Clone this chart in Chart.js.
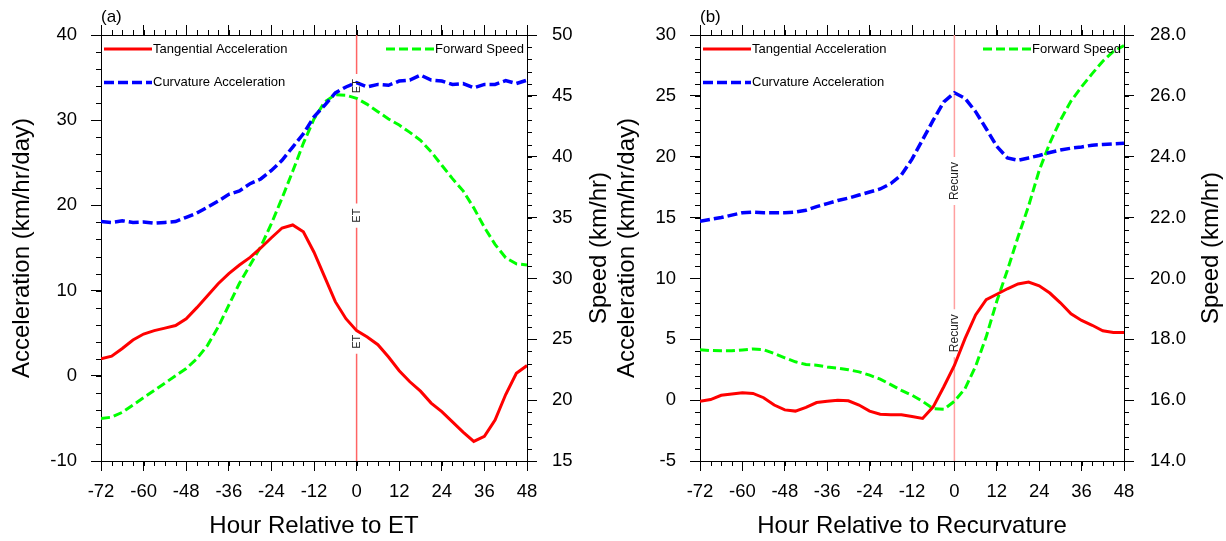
<!DOCTYPE html>
<html>
<head>
<meta charset="utf-8">
<title>Acceleration and forward speed</title>
<script src="https://cdn.jsdelivr.net/npm/chart.js@4.4.1/dist/chart.umd.min.js"></script>
<style>
  body { margin: 0; background: #fff; }
  #wrap { position: relative; width: 1226px; height: 541px; background: #fff; }
  canvas { position: absolute; top: 0; }
</style>
</head>
<body>
<div id="wrap">
  <canvas id="chart-a" width="613" height="541" style="left:0"></canvas>
  <canvas id="chart-b" width="613" height="541" style="left:613px"></canvas>
</div>
<script>
// hours relative to the event (3-hourly)
const hours = [-72, -69, -66, -63, -60, -57, -54, -51, -48, -45, -42, -39, -36, -33, -30, -27, -24, -21, -18, -15,
  -12, -9, -6, -3, 0, 3, 6, 9, 12, 15, 18, 21, 24, 27, 30, 33, 36, 39, 42, 45, 48];

// panel (a): relative to ET
const etTangential = [2.0, 2.3, 3.2, 4.2, 4.9, 5.3, 5.6, 5.9, 6.7, 8.0, 9.4, 10.8, 12.0, 13.0, 13.9, 15.0, 16.2, 17.35, 17.7, 16.9,
  14.5, 11.6, 8.7, 6.7, 5.3, 4.55, 3.65, 2.2, 0.6, -0.7, -1.8, -3.2, -4.2, -5.4, -6.6, -7.7, -7.1, -5.2, -2.2, 0.3, 1.2];
const etCurvature = [18.1, 18.0, 18.2, 18.0, 18.05, 17.9, 18.0, 18.1, 18.6, 19.1, 19.8, 20.5, 21.3, 21.7, 22.55, 23.1, 24.1, 25.3, 26.85, 28.4,
  30.4, 31.75, 33.2, 33.9, 34.4, 33.9, 34.2, 34.1, 34.6, 34.7, 35.3, 34.7, 34.6, 34.2, 34.3, 33.8, 34.2, 34.2, 34.65, 34.3, 34.7];
const etSpeed = [18.5, 18.6, 19.0, 19.6, 20.2, 20.8, 21.4, 22.0, 22.6, 23.4, 24.5, 26.0, 27.8, 29.6, 31.1, 32.6, 34.5, 36.6, 38.8, 41.1,
  43.1, 44.5, 45.1, 45.05, 44.8, 44.3, 43.7, 43.1, 42.6, 42.0, 41.35, 40.4, 39.3, 38.2, 37.2, 35.8, 34.2, 32.8, 31.7, 31.2, 31.1];

// panel (b): relative to recurvature
const rcTangential = [-0.1, 0.05, 0.4, 0.5, 0.6, 0.55, 0.2, -0.4, -0.8, -0.9, -0.6, -0.2, -0.1, 0.0, -0.05, -0.4, -0.9, -1.15, -1.2, -1.2,
  -1.35, -1.5, -0.55, 1.1, 2.85, 5.05, 7.0, 8.25, 8.7, 9.15, 9.55, 9.7, 9.4, 8.8, 8.0, 7.1, 6.55, 6.15, 5.7, 5.55, 5.55];
const rcCurvature = [14.7, 14.85, 15.0, 15.2, 15.4, 15.45, 15.4, 15.4, 15.4, 15.45, 15.6, 15.9, 16.15, 16.4, 16.6, 16.85, 17.1, 17.35, 17.8, 18.5,
  19.8, 21.4, 23.0, 24.5, 25.25, 24.8, 23.7, 22.3, 20.85, 19.9, 19.7, 19.9, 20.1, 20.35, 20.55, 20.7, 20.8, 20.95, 21.0, 21.05, 21.1];
const rcSpeed = [17.66, 17.63, 17.62, 17.62, 17.65, 17.68, 17.66, 17.53, 17.39, 17.26, 17.17, 17.15, 17.09, 17.05, 17.0, 16.93, 16.82, 16.69, 16.51, 16.32,
  16.16, 15.96, 15.72, 15.7, 15.96, 16.38, 17.11, 18.08, 19.25, 20.27, 21.36, 22.38, 23.55, 24.45, 25.2, 25.83, 26.3, 26.73, 27.14, 27.46, 27.65];

const FONT = '"Liberation Sans", Arial, Helvetica, sans-serif';

function toPoints(values) {
  return values.map((v, i) => ({ x: hours[i], y: v }));
}

// shorter tick marks between the labelled ones, on all four sides
const minorTicks = {
  id: 'minorTicks',
  afterDraw(chart, args, o) {
    const ctx = chart.ctx, a = chart.chartArea;
    ctx.save();
    ctx.strokeStyle = '#000';
    ctx.lineWidth = 1;
    ctx.beginPath();
    for (const id of Object.keys(o.steps)) {
      const s = chart.scales[id];
      const step = o.steps[id];
      const n = Math.round((s.max - s.min) / step);
      for (let i = 0; i <= n; i++) {
        const p = Math.round(s.getPixelForValue(s.min + i * step)) + 0.5;
        if (s.position === 'left') { ctx.moveTo(a.left, p); ctx.lineTo(a.left - 5, p); }
        else if (s.position === 'right') { ctx.moveTo(a.right, p); ctx.lineTo(a.right + 5, p); }
        else if (s.position === 'top') { ctx.moveTo(p, a.top); ctx.lineTo(p, a.top - 5); }
        else { ctx.moveTo(p, a.bottom); ctx.lineTo(p, a.bottom + 5); }
      }
    }
    ctx.stroke();
    ctx.restore();
  }
};

// reference line, in-plot legend, panel tag and right-hand title
const panelDecor = {
  id: 'panelDecor',
  beforeDatasetsDraw(chart, args, o) {
    const ctx = chart.ctx, a = chart.chartArea;
    const x0 = chart.scales.x.getPixelForValue(o.markHour);
    ctx.save();
    ctx.font = o.markFont + 'px ' + FONT;
    const half = ctx.measureText(o.markText).width / 2 + 5;
    const centers = o.markAt.map(v => chart.scales.y.getPixelForValue(v)).sort((p, q) => p - q);
    ctx.strokeStyle = o.markColor;
    ctx.lineWidth = o.markWidth;
    ctx.beginPath();
    let y = a.top;
    centers.forEach(c => { ctx.moveTo(x0, y); ctx.lineTo(x0, c - half); y = c + half; });
    ctx.moveTo(x0, y);
    ctx.lineTo(x0, a.bottom);
    ctx.stroke();
    ctx.restore();
  },
  afterDatasetsDraw(chart, args, o) {
    const ctx = chart.ctx, a = chart.chartArea;
    const x0 = chart.scales.x.getPixelForValue(o.markHour);
    ctx.save();
    ctx.fillStyle = '#222';
    ctx.font = o.markFont + 'px ' + FONT;
    ctx.textAlign = 'center';
    ctx.textBaseline = 'middle';
    o.markAt.forEach(v => {
      ctx.save();
      ctx.translate(x0, chart.scales.y.getPixelForValue(v));
      ctx.rotate(-Math.PI / 2);
      ctx.fillText(o.markText, 0, 0);
      ctx.restore();
    });

    // legend entries drawn inside the plot
    const ds = chart.data.datasets;
    const entry = (d, x, yy) => {
      ctx.save();
      ctx.strokeStyle = d.borderColor;
      ctx.lineWidth = d.borderWidth;
      ctx.setLineDash(d.borderDash || []);
      ctx.beginPath();
      ctx.moveTo(x, yy);
      ctx.lineTo(x + 48, yy);
      ctx.stroke();
      ctx.restore();
      ctx.fillStyle = '#000';
      ctx.font = '13px ' + FONT;
      ctx.textAlign = 'left';
      ctx.textBaseline = 'middle';
      ctx.fillText(d.label, x + 49, yy);
    };
    entry(ds[0], a.left + 3, a.top + 14);
    entry(ds[1], a.left + 3, a.top + 47.5);
    entry(ds[2], a.right - 141, a.top + 14);

    // panel tag
    ctx.fillStyle = '#000';
    ctx.font = '17px ' + FONT;
    ctx.textAlign = 'left';
    ctx.fillText(o.tag, a.left, 17);

    // right axis title, reading upwards like the left one
    ctx.font = '24px ' + FONT;
    ctx.textAlign = 'center';
    ctx.translate(o.rightTitleX, (a.top + a.bottom) / 2);
    ctx.rotate(-Math.PI / 2);
    ctx.fillText(o.rightTitle, 0, 0);
    ctx.restore();
  }
};

function axisStyle() {
  return {
    grid: { drawOnChartArea: false, drawTicks: true, tickLength: 10, tickColor: '#000', tickWidth: 1 },
    border: { display: true, color: '#000', width: 1 }
  };
}

function makePanel(canvasId, p) {
  const tickFont = { size: 18.5, family: FONT };
  const config = {
    type: 'line',
    data: {
      datasets: [
        { label: 'Tangential Acceleration', data: toPoints(p.tangential), yAxisID: 'y',
          borderColor: '#ff0000', borderWidth: 3 },
        { label: 'Curvature Acceleration', data: toPoints(p.curvature), yAxisID: 'y',
          borderColor: '#0000ff', borderWidth: 3.5, borderDash: [10, 4] },
        { label: 'Forward Speed', data: toPoints(p.speed), yAxisID: 'y1',
          borderColor: '#00ff00', borderWidth: 3, borderDash: [9, 4] }
      ]
    },
    options: {
      responsive: false,
      animation: false,
      devicePixelRatio: 1,
      layout: { padding: 0 },
      elements: { point: { radius: 0 }, line: { tension: 0 } },
      scales: {
        x: Object.assign(axisStyle(), {
          type: 'linear', position: 'bottom', min: -72, max: 48,
          afterFit: s => { s.height = 80; },
          ticks: { stepSize: 12, color: '#000', font: tickFont, padding: 10, maxRotation: 0, autoSkip: false },
          title: { display: true, text: p.xTitle, color: '#000', font: { size: 24, family: FONT }, padding: { top: 0, bottom: 0 } }
        }),
        xTop: Object.assign(axisStyle(), {
          type: 'linear', position: 'top', min: -72, max: 48,
          afterFit: s => { s.height = 35; },
          ticks: { stepSize: 12, display: false }
        }),
        y: Object.assign(axisStyle(), {
          type: 'linear', position: 'left', min: p.leftMin, max: p.leftMax,
          afterFit: s => { s.width = p.leftWidth; },
          ticks: { stepSize: p.leftStep, color: '#000', font: tickFont, padding: 14 },
          title: { display: true, text: 'Acceleration (km/hr/day)', color: '#000', font: { size: 24, family: FONT },
                   padding: { top: p.leftTitlePad, bottom: 0 } }
        }),
        y1: Object.assign(axisStyle(), {
          type: 'linear', position: 'right', min: p.rightMin, max: p.rightMax,
          afterFit: s => { s.width = p.rightWidth; },
          ticks: { stepSize: p.rightStep, color: '#000', font: tickFont, padding: p.rightPad,
                   callback: v => v.toFixed(p.rightDecimals) }
        })
      },
      plugins: {
        legend: { display: false },
        tooltip: { enabled: false },
        minorTicks: { steps: { x: 3, xTop: 3, y: p.leftMinor, y1: p.rightMinor } },
        panelDecor: {
          tag: p.tag, markHour: 0, markText: p.markText, markAt: p.markAt, markFont: p.markFont,
          markColor: p.markColor, markWidth: p.markWidth, rightTitle: 'Speed (km/hr)', rightTitleX: p.rightTitleX
        }
      }
    },
    plugins: [minorTicks, panelDecor]
  };
  return new Chart(document.getElementById(canvasId), config);
}

makePanel('chart-a', {
  tag: '(a)', xTitle: 'Hour Relative to ET',
  tangential: etTangential, curvature: etCurvature, speed: etSpeed,
  leftMin: -10, leftMax: 40, leftStep: 10, leftMinor: 2, leftWidth: 101, leftTitlePad: 8,
  rightMin: 15, rightMax: 50, rightStep: 5, rightMinor: 1, rightWidth: 86, rightPad: 15, rightDecimals: 0,
  rightTitleX: 599,
  markText: 'ET', markAt: [34, 18.8, 4], markFont: 11, markColor: '#ff6464', markWidth: 1.5
});

makePanel('chart-b', {
  tag: '(b)', xTitle: 'Hour Relative to Recurvature',
  tangential: rcTangential, curvature: rcCurvature, speed: rcSpeed,
  leftMin: -5, leftMax: 30, leftStep: 5, leftMinor: 1, leftWidth: 87, leftTitlePad: 0,
  rightMin: 14, rightMax: 28, rightStep: 2, rightMinor: 0.4, rightWidth: 102, rightPad: 16, rightDecimals: 1,
  rightTitleX: 598,
  markText: 'Recurv', markAt: [18.0, 5.5], markFont: 12, markColor: '#ffa0a0', markWidth: 1.5
});
</script>
</body>
</html>
